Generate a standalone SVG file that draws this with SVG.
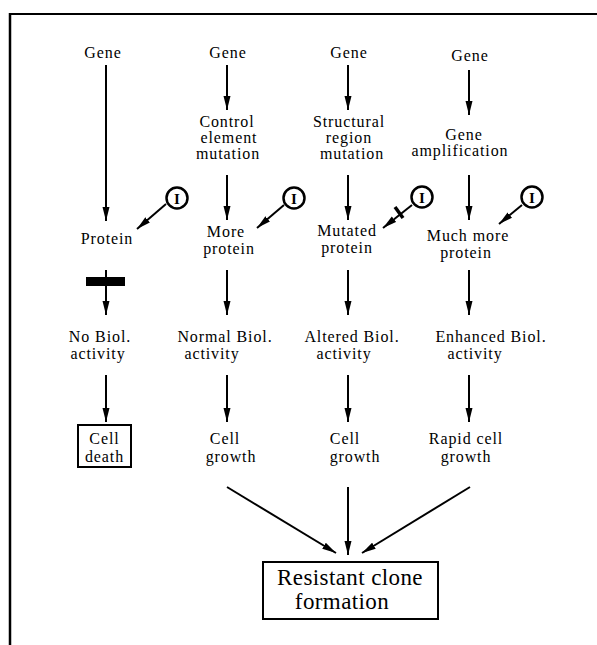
<svg xmlns="http://www.w3.org/2000/svg" width="597" height="645" viewBox="0 0 597 645">
<style>
.t{font-family:"Liberation Serif","Times New Roman",serif;font-size:16px;letter-spacing:0.9px;fill:#000;text-anchor:middle}
.big{font-size:23px;letter-spacing:0.4px}
.ln{stroke:#000;stroke-width:2;fill:none}
.box{stroke:#000;stroke-width:2;fill:#fff}
.inh{stroke:#000;stroke-width:2.5;fill:#fff}
.it{font-family:"Liberation Serif","Times New Roman",serif;font-size:15px;font-weight:bold;fill:#000;text-anchor:middle}
</style>
<defs>
<marker id="ah" markerUnits="userSpaceOnUse" markerWidth="14" markerHeight="8" refX="14" refY="4" orient="auto">
<path d="M0,0.5 L14,4 L0,7.5 z" fill="#000"/>
</marker>
</defs>
<g id="frame">
<line x1="10" y1="14" x2="597" y2="14" stroke="#000" stroke-width="2"/>
<line x1="10" y1="13" x2="10" y2="645" stroke="#000" stroke-width="2.5"/>
</g>
<g id="connectors">
<line class="ln" x1="106" y1="65" x2="106" y2="221" marker-end="url(#ah)"/>
<line class="ln" x1="106" y1="270" x2="106" y2="315" marker-end="url(#ah)"/>
<line class="ln" x1="106" y1="375" x2="106" y2="422" marker-end="url(#ah)"/>
<line class="ln" x1="227" y1="65" x2="227" y2="110" marker-end="url(#ah)"/>
<line class="ln" x1="227" y1="175" x2="227" y2="220" marker-end="url(#ah)"/>
<line class="ln" x1="227" y1="270" x2="227" y2="315" marker-end="url(#ah)"/>
<line class="ln" x1="227" y1="375" x2="227" y2="422" marker-end="url(#ah)"/>
<line class="ln" x1="348" y1="65" x2="348" y2="110" marker-end="url(#ah)"/>
<line class="ln" x1="348" y1="175" x2="348" y2="220" marker-end="url(#ah)"/>
<line class="ln" x1="348" y1="270" x2="348" y2="315" marker-end="url(#ah)"/>
<line class="ln" x1="348" y1="375" x2="348" y2="422" marker-end="url(#ah)"/>
<line class="ln" x1="469" y1="70" x2="469" y2="115" marker-end="url(#ah)"/>
<line class="ln" x1="469" y1="175" x2="469" y2="220" marker-end="url(#ah)"/>
<line class="ln" x1="469" y1="270" x2="469" y2="315" marker-end="url(#ah)"/>
<line class="ln" x1="469" y1="375" x2="469" y2="422" marker-end="url(#ah)"/>
<line class="ln" x1="227" y1="487" x2="336" y2="553" marker-end="url(#ah)"/>
<line class="ln" x1="348" y1="487" x2="348" y2="555" marker-end="url(#ah)"/>
<line class="ln" x1="470" y1="487" x2="362" y2="553" marker-end="url(#ah)"/>
<line class="ln" x1="166" y1="204" x2="137" y2="229" stroke-width="2.5" marker-end="url(#ah)"/>
<line class="ln" x1="284" y1="205" x2="257" y2="228" stroke-width="2.5" marker-end="url(#ah)"/>
<line class="ln" x1="412" y1="205" x2="383" y2="228" stroke-width="2.5" marker-end="url(#ah)"/>
<line class="ln" x1="522" y1="205" x2="499" y2="224" stroke-width="2.5" marker-end="url(#ah)"/>
<line x1="395" y1="207" x2="403" y2="218" stroke="#000" stroke-width="3.5"/>
<rect x="86" y="277" width="39" height="9" fill="#000"/>
</g>
<g id="inh1"><circle class="inh" cx="177" cy="198" r="10.5"/><text class="it" x="177" y="203.5">I</text></g>
<g id="inh2"><circle class="inh" cx="294" cy="198" r="10.5"/><text class="it" x="294" y="203.5">I</text></g>
<g id="inh3"><circle class="inh" cx="422" cy="197" r="10.5"/><text class="it" x="422" y="202.5">I</text></g>
<g id="inh4"><circle class="inh" cx="532" cy="197" r="10.5"/><text class="it" x="532" y="202.5">I</text></g>
<g id="gene1"><text class="t" x="103" y="58">Gene</text></g>
<g id="gene2"><text class="t" x="228" y="58">Gene</text></g>
<g id="gene3"><text class="t" x="349" y="58">Gene</text></g>
<g id="gene4"><text class="t" x="470" y="61">Gene</text></g>
<g id="mut2"><text class="t" x="227" y="127">Control</text><text class="t" x="229" y="143">element</text><text class="t" x="228" y="159">mutation</text></g>
<g id="mut3"><text class="t" x="349" y="127">Structural</text><text class="t" x="349" y="143">region</text><text class="t" x="352" y="159">mutation</text></g>
<g id="mut4"><text class="t" x="464" y="140">Gene</text><text class="t" x="460" y="156">amplification</text></g>
<g id="prot1"><text class="t" x="107" y="244">Protein</text></g>
<g id="prot2"><text class="t" x="226" y="237">More</text><text class="t" x="229" y="254">protein</text></g>
<g id="prot3"><text class="t" x="347" y="236">Mutated</text><text class="t" x="347" y="253">protein</text></g>
<g id="prot4"><text class="t" x="468" y="241">Much more</text><text class="t" x="466" y="258">protein</text></g>
<g id="act1"><text class="t" x="100" y="342">No Biol.</text><text class="t" x="98" y="359">activity</text></g>
<g id="act2"><text class="t" x="225" y="342">Normal Biol.</text><text class="t" x="212" y="359">activity</text></g>
<g id="act3"><text class="t" x="352" y="342">Altered Biol.</text><text class="t" x="344" y="359">activity</text></g>
<g id="act4"><text class="t" x="491" y="342">Enhanced Biol.</text><text class="t" x="475" y="359">activity</text></g>
<g id="out1"><rect class="box" x="78" y="425" width="53" height="42"/><text class="t" x="104.5" y="444">Cell</text><text class="t" x="104.5" y="462">death</text></g>
<g id="out2"><text class="t" x="225" y="444">Cell</text><text class="t" x="231" y="462">growth</text></g>
<g id="out3"><text class="t" x="345" y="444">Cell</text><text class="t" x="355" y="462">growth</text></g>
<g id="out4"><text class="t" x="466" y="444">Rapid cell</text><text class="t" x="466" y="462">growth</text></g>
<g id="resistant"><rect class="box" x="263" y="562" width="175" height="57"/><text class="t big" x="350" y="585">Resistant clone</text><text class="t big" x="342" y="609">formation</text></g>
</svg>
